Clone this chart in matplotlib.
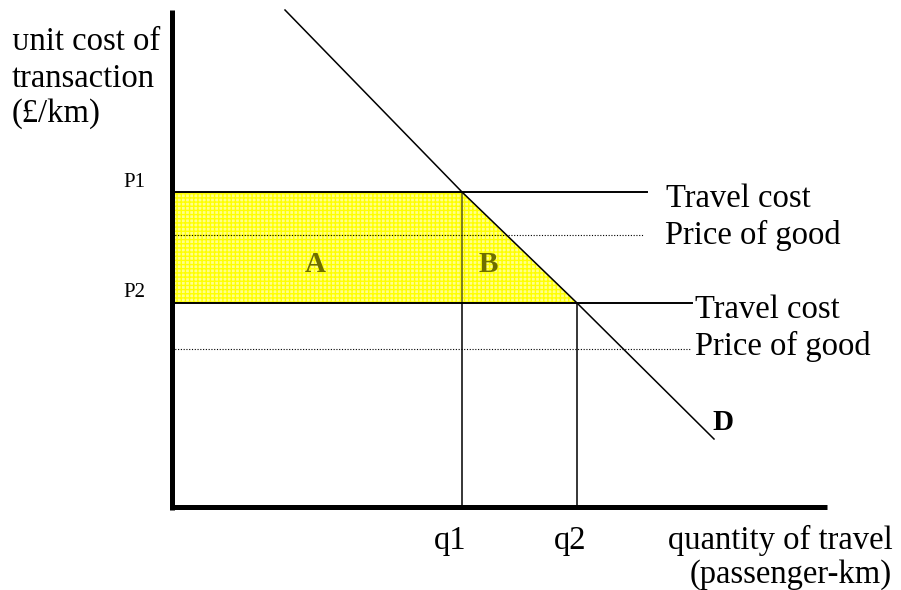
import numpy as np
import matplotlib
matplotlib.use("Agg")
import matplotlib.pyplot as plt
from matplotlib.patches import Polygon

plt.rcParams['font.family'] = ['Liberation Serif', 'DejaVu Serif', 'DejaVu Sans']
plt.rcParams['hatch.linewidth'] = 1.0

# demand curve (quantity, price)
demand_q = [11.3, 29.0, 40.5, 54.2]
demand_p = [49.7, 31.5, 20.4, 6.8]

# price levels
P1 = 31.5
P2 = 20.4
good1 = 27.2
good2 = 15.8
q1 = 29.0
q2 = 40.5

# how far the horizontal lines run to the right
travel_end = [47.5, 52.0]
good_end = [47.1, 51.8]

x_max = 65.5
y_max = 49.7

fig = plt.figure(figsize=(9.01, 5.90), dpi=100)
ax = fig.add_axes([0, 0, 1, 1])
ax.set_xlim(-17.2, 72.9)
ax.set_ylim(-8.3, 50.7)
ax.axis('off')

# yellow surplus area A + B
poly = Polygon([(0, P2), (0, P1), (q1, P1), (q2, P2)], closed=True,
               facecolor='#ffff8c', edgecolor='#ffff00', hatch='++++',
               linewidth=0, zorder=1)
ax.add_patch(poly)

# axes
ax.plot([0, 0], [-0.3, y_max], color='black', lw=3.6, solid_capstyle='butt', zorder=5)
ax.plot([0, x_max], [0, 0], color='black', lw=3.6, solid_capstyle='butt', zorder=5)

# demand
ax.plot(demand_q, demand_p, color='black', lw=1.1, zorder=4)

# travel cost lines
ax.plot([0, travel_end[0]], [P1, P1], color='black', lw=1.4, zorder=4)
ax.plot([0, travel_end[1]], [P2, P2], color='black', lw=1.4, zorder=4)

# price of good lines
ax.plot([0, good_end[0]], [good1, good1], color='black', lw=0.8,
        linestyle=(0, (1, 1.5)), zorder=4)
ax.plot([0, good_end[1]], [good2, good2], color='black', lw=0.8,
        linestyle=(0, (1, 1.5)), zorder=4)

# quantity drop lines
ax.plot([q1, q1], [P2, P1], color='#5a5a10', lw=1.1, zorder=2)
ax.plot([q1, q1], [0, P2], color='black', lw=1.1, zorder=4)
ax.plot([q2, q2], [0, P2], color='black', lw=1.1, zorder=4)

fs = 23.5
ax.text(49.4, 30.0, 'Travel cost', fontsize=fs, va='baseline', ha='left')
ax.text(49.3, 26.3, 'Price of good', fontsize=fs, va='baseline', ha='left')
ax.text(52.3, 18.9, 'Travel cost', fontsize=fs, va='baseline', ha='left')
ax.text(52.3, 15.2, 'Price of good', fontsize=fs, va='baseline', ha='left')

ax.text(27.8, -4.2, 'q1', fontsize=fs, va='baseline', ha='center')
ax.text(39.8, -4.2, 'q2', fontsize=fs, va='baseline', ha='center')
ax.text(49.6, -4.2, 'quantity of travel', fontsize=fs, va='baseline', ha='left')
ax.text(51.8, -7.6, '(passenger-km)', fontsize=fs, va='baseline', ha='left')

ax.text(-16.0, 45.7, 'ᴜnit cost of', fontsize=fs, va='baseline', ha='left')
ax.text(-16.0, 42.0, 'transaction', fontsize=fs, va='baseline', ha='left')
ax.text(-16.0, 38.5, '(£/km)', fontsize=fs, va='baseline', ha='left')

ax.text(-4.9, 32.0, 'P1', fontsize=15, va='baseline', ha='left')
ax.text(-4.9, 21.0, 'P2', fontsize=15, va='baseline', ha='left')

ax.text(14.3, 24.2, 'A', fontsize=21, fontweight='bold', color='#6e6e00',
        va='center', ha='center', zorder=3)
ax.text(31.6, 24.2, 'B', fontsize=21, fontweight='bold', color='#6e6e00',
        va='center', ha='center', zorder=3)
ax.text(54.0, 8.4, 'D', fontsize=21, fontweight='bold', va='center', ha='left')

fig.savefig('out.png', dpi=100)
